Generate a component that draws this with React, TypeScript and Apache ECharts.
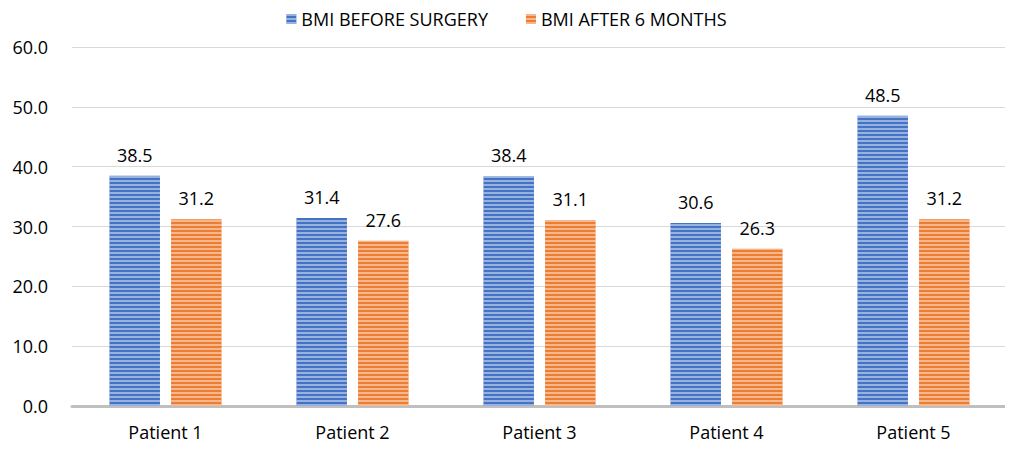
import React, { useEffect, useRef } from "react";
import * as echarts from "echarts";

const categories = ["Patient 1", "Patient 2", "Patient 3", "Patient 4", "Patient 5"];
const before = [38.5, 31.4, 38.4, 30.6, 48.5];
const after = [31.2, 27.6, 31.1, 26.3, 31.2];
const seriesNames = ["BMI BEFORE SURGERY", "BMI AFTER 6 MONTHS"];

const FONT = "'Open Sans', 'Noto Sans', sans-serif";
const FS = 18;

export default function App() {
  const ref = useRef<HTMLDivElement>(null);
  useEffect(() => {
    const chart = echarts.init(ref.current!, null, { renderer: "svg" });
    const decal = {
      symbol: "rect",
      symbolSize: 1,
      dashArrayX: [1, 0],
      dashArrayY: [2, 2],
      rotation: 0,
      color: "rgba(255,255,255,0.45)",
    };
    const label = {
      show: true,
      position: "top" as const,
      distance: 12,
      fontSize: FS,
      color: "#000",
      fontFamily: FONT,
      formatter: (p: any) => Number(p.value).toFixed(1),
    };
    chart.setOption({
      animation: false,
      aria: { enabled: false, decal: { show: true } },
      legend: {
        top: 5,
        left: "center",
        itemWidth: 10,
        itemHeight: 10,
        itemGap: 38,
        icon: "rect",
        textStyle: { fontSize: FS, color: "#000", fontFamily: FONT },
        data: seriesNames,
      },
      grid: { left: 72, right: 6, top: 47, bottom: 47, containLabel: false },
      xAxis: {
        type: "category",
        data: categories,
        axisLine: { lineStyle: { color: "#bfbfbf", width: 3 } },
        axisTick: { show: false },
        axisLabel: { fontSize: FS, color: "#000", fontFamily: FONT, margin: 17 },
      },
      yAxis: {
        type: "value",
        min: 0,
        max: 60,
        interval: 10,
        axisLabel: {
          fontSize: FS,
          color: "#000",
          fontFamily: FONT,
          margin: 24,
          formatter: (v: number) => v.toFixed(1),
        },
        splitLine: { lineStyle: { color: "#d9d9d9", width: 1 } },
        axisLine: { show: false },
        axisTick: { show: false },
      },
      series: [
        {
          name: seriesNames[0],
          type: "bar",
          data: before,
          barWidth: "27%",
          barGap: "22%",
          itemStyle: { color: "#4472C4", decal },
          label,
        },
        {
          name: seriesNames[1],
          type: "bar",
          data: after,
          barWidth: "27%",
          itemStyle: { color: "#ED7D31", decal },
          label,
        },
      ],
    });
    return () => chart.dispose();
  }, []);
  return <div ref={ref} style={{ width: 1013, height: 453, margin: -8 }} />;
}
